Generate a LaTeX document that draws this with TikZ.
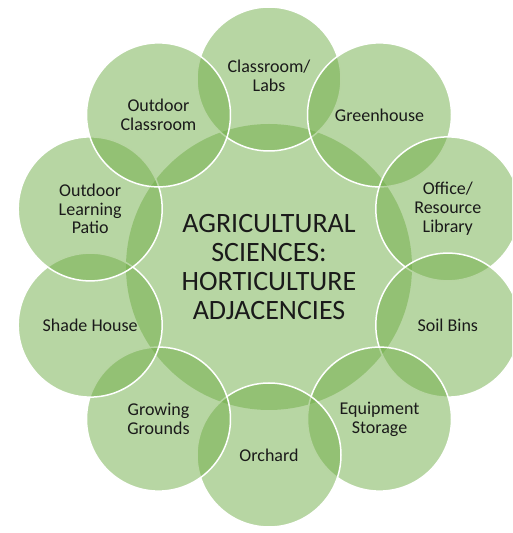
\documentclass[tikz,border=0pt]{standalone}
\usepackage{fontspec}
\setmainfont{Carlito}
\usetikzlibrary{calc}
\definecolor{vgreen}{HTML}{70AD47}
\definecolor{txt}{HTML}{1A1A1A}
\tikzset{
  bub/.style={circle, inner sep=0pt, minimum size=144pt, fill=vgreen, fill opacity=0.5, draw=white, draw opacity=1, line width=1.5pt},
  hub/.style={circle, inner sep=0pt, minimum size=286pt, fill=vgreen, fill opacity=0.5},
  lbl/.style={align=center, text=txt, font=\fontsize{18}{18.8}\selectfont},
  hublbl/.style={align=center, text=txt, font=\fontsize{28}{29.2}\selectfont}
}
\begin{document}
\begin{tikzpicture}[x=1pt,y=1pt]
\useasboundingbox (0,0) rectangle (512,533);
\clip (0,0) rectangle (512,533);
\coordinate (c) at (269,266);
\node[hub] (hub) at (c) {};
\foreach \n/\a in {cl/90, gh/54, of/18, sb/-18, eq/-54, or/-90, gg/-126, sh/-162, op/162, oc/126}{
  \node[bub] (\n) at ($(c)+(\a:188)$) {};
}
\node[hublbl] at (hub.center) {AGRICULTURAL\\SCIENCES:\\HORTICULTURE\\ADJACENCIES};
\node[lbl] at ([yshift=3pt]cl.center) {Classroom/\\Labs};
\node[lbl] at (gh.center) {Greenhouse};
\node[lbl] at (of.center) {Office/\\Resource\\Library};
\node[lbl] at (sb.center) {Soil Bins};
\node[lbl] at (eq.center) {Equipment\\Storage};
\node[lbl] at (or.center) {Orchard};
\node[lbl] at (gg.center) {Growing\\Grounds};
\node[lbl] at (sh.center) {Shade House};
\node[lbl] at (op.center) {Outdoor\\Learning\\Patio};
\node[lbl] at (oc.center) {Outdoor\\Classroom};
\end{tikzpicture}
\end{document}
